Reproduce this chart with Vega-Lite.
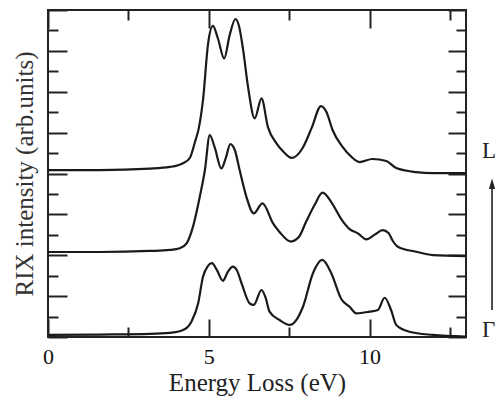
{
  "$schema": "https://vega.github.io/schema/vega-lite/v6.json",
  "width": 418,
  "height": 327,
  "autosize": "none",
  "padding": {"left": 48, "top": 10, "right": 31, "bottom": 66},
  "background": "white",
  "config": {
    "view": {"stroke": "#222", "strokeWidth": 2},
    "font": "Liberation Serif, Times New Roman, Times, serif",
    "axis": {"domain": false, "grid": false, "tickColor": "#222", "tickWidth": 2}
  },
  "datasets": {
    "curves": [
      {"s": "L", "x": 0, "y": 8.17}, {"s": "L", "x": 1.61, "y": 8.17}, {"s": "L", "x": 3.17, "y": 8.24}, {"s": "L", "x": 3.79, "y": 8.32}, {"s": "L", "x": 4.2, "y": 8.5}, {"s": "L", "x": 4.41, "y": 8.76}, {"s": "L", "x": 4.57, "y": 9.54}, {"s": "L", "x": 4.69, "y": 10.22}, {"s": "L", "x": 4.82, "y": 11.59}, {"s": "L", "x": 4.98, "y": 14.37}, {"s": "L", "x": 5.13, "y": 15.22}, {"s": "L", "x": 5.28, "y": 14.63}, {"s": "L", "x": 5.48, "y": 13.63}, {"s": "L", "x": 5.65, "y": 14.77}, {"s": "L", "x": 5.83, "y": 15.56}, {"s": "L", "x": 5.94, "y": 15.22}, {"s": "L", "x": 6.07, "y": 14.04}, {"s": "L", "x": 6.22, "y": 12.25}, {"s": "L", "x": 6.43, "y": 10.7}, {"s": "L", "x": 6.64, "y": 11.68}, {"s": "L", "x": 6.84, "y": 10.27}, {"s": "L", "x": 7.1, "y": 9.49}, {"s": "L", "x": 7.33, "y": 9.05}, {"s": "L", "x": 7.57, "y": 8.76}, {"s": "L", "x": 7.92, "y": 9.25}, {"s": "L", "x": 8.2, "y": 10.23}, {"s": "L", "x": 8.49, "y": 11.3}, {"s": "L", "x": 8.66, "y": 11.01}, {"s": "L", "x": 8.85, "y": 10.13}, {"s": "L", "x": 9.16, "y": 9.3}, {"s": "L", "x": 9.44, "y": 8.81}, {"s": "L", "x": 9.69, "y": 8.56}, {"s": "L", "x": 10.09, "y": 8.71}, {"s": "L", "x": 10.52, "y": 8.61}, {"s": "L", "x": 10.83, "y": 8.27}, {"s": "L", "x": 11.45, "y": 8.07}, {"s": "L", "x": 11.96, "y": 8.02}, {"s": "L", "x": 12.98, "y": 8.02},
      {"s": "M", "x": 0, "y": 4.16}, {"s": "M", "x": 1.61, "y": 4.16}, {"s": "M", "x": 3.17, "y": 4.21}, {"s": "M", "x": 3.79, "y": 4.26}, {"s": "M", "x": 4.1, "y": 4.34}, {"s": "M", "x": 4.31, "y": 4.58}, {"s": "M", "x": 4.51, "y": 5.4}, {"s": "M", "x": 4.72, "y": 6.86}, {"s": "M", "x": 4.88, "y": 8.17}, {"s": "M", "x": 5.03, "y": 9.88}, {"s": "M", "x": 5.19, "y": 9.25}, {"s": "M", "x": 5.39, "y": 8.25}, {"s": "M", "x": 5.53, "y": 8.76}, {"s": "M", "x": 5.67, "y": 9.44}, {"s": "M", "x": 5.81, "y": 9.15}, {"s": "M", "x": 5.96, "y": 8.17}, {"s": "M", "x": 6.17, "y": 6.86}, {"s": "M", "x": 6.4, "y": 6.05}, {"s": "M", "x": 6.67, "y": 6.54}, {"s": "M", "x": 7.0, "y": 5.56}, {"s": "M", "x": 7.2, "y": 5.14}, {"s": "M", "x": 7.55, "y": 4.67}, {"s": "M", "x": 7.8, "y": 4.89}, {"s": "M", "x": 8.03, "y": 5.65}, {"s": "M", "x": 8.29, "y": 6.46}, {"s": "M", "x": 8.54, "y": 7.06}, {"s": "M", "x": 8.81, "y": 6.6}, {"s": "M", "x": 9.12, "y": 5.77}, {"s": "M", "x": 9.38, "y": 5.28}, {"s": "M", "x": 9.64, "y": 5.07}, {"s": "M", "x": 9.9, "y": 4.78}, {"s": "M", "x": 10.16, "y": 5.01}, {"s": "M", "x": 10.41, "y": 5.23}, {"s": "M", "x": 10.59, "y": 5.09}, {"s": "M", "x": 10.72, "y": 4.71}, {"s": "M", "x": 10.88, "y": 4.42}, {"s": "M", "x": 11.45, "y": 4.17}, {"s": "M", "x": 11.97, "y": 4.01}, {"s": "M", "x": 12.98, "y": 3.96},
      {"s": "G", "x": 0, "y": 0.1}, {"s": "G", "x": 1.61, "y": 0.12}, {"s": "G", "x": 3.17, "y": 0.15}, {"s": "G", "x": 3.79, "y": 0.2}, {"s": "G", "x": 4.2, "y": 0.34}, {"s": "G", "x": 4.46, "y": 0.75}, {"s": "G", "x": 4.67, "y": 1.65}, {"s": "G", "x": 4.82, "y": 2.95}, {"s": "G", "x": 4.97, "y": 3.47}, {"s": "G", "x": 5.1, "y": 3.61}, {"s": "G", "x": 5.25, "y": 3.28}, {"s": "G", "x": 5.44, "y": 2.75}, {"s": "G", "x": 5.59, "y": 3.18}, {"s": "G", "x": 5.75, "y": 3.44}, {"s": "G", "x": 5.87, "y": 3.28}, {"s": "G", "x": 6.02, "y": 2.63}, {"s": "G", "x": 6.27, "y": 1.65}, {"s": "G", "x": 6.4, "y": 1.57}, {"s": "G", "x": 6.64, "y": 2.3}, {"s": "G", "x": 6.77, "y": 1.91}, {"s": "G", "x": 6.89, "y": 1.24}, {"s": "G", "x": 7.2, "y": 0.83}, {"s": "G", "x": 7.52, "y": 0.59}, {"s": "G", "x": 7.93, "y": 1.48}, {"s": "G", "x": 8.24, "y": 3.12}, {"s": "G", "x": 8.53, "y": 3.77}, {"s": "G", "x": 8.81, "y": 3.12}, {"s": "G", "x": 9.12, "y": 1.86}, {"s": "G", "x": 9.38, "y": 1.48}, {"s": "G", "x": 9.59, "y": 1.16}, {"s": "G", "x": 10.0, "y": 1.24}, {"s": "G", "x": 10.26, "y": 1.32}, {"s": "G", "x": 10.47, "y": 1.92}, {"s": "G", "x": 10.67, "y": 1.32}, {"s": "G", "x": 10.83, "y": 0.59}, {"s": "G", "x": 11.24, "y": 0.26}, {"s": "G", "x": 11.97, "y": 0.1}, {"s": "G", "x": 12.98, "y": 0.02}
    ],
    "labels": [
      {"t": "L", "x": 13.5, "y": 8.74},
      {"t": "Γ", "x": 13.5, "y": 0.0}
    ],
    "arrow": [
      {"x": 13.81, "y": 1.32, "y2": 7.5}
    ]
  },
  "layer": [
    {
      "data": {"name": "curves"},
      "mark": {"type": "line", "interpolate": "monotone", "color": "#1a1a1a", "strokeWidth": 2.2},
      "encoding": {
        "x": {
          "field": "x", "type": "quantitative",
          "scale": {"domain": [0, 13], "nice": false, "zero": false},
          "axis": {
            "orient": "bottom",
            "title": "Energy Loss (eV)",
            "titleFont": "Liberation Serif, Times New Roman, Times, serif", "titleFontSize": 25, "titleFontWeight": "normal", "titleColor": "#222", "titlePadding": 3,
            "values": [0, 2.5, 5, 7.5, 10, 12.5],
            "labelExpr": "datum.value % 5 === 0 ? datum.label : ''",
            "labelFont": "Liberation Serif, Times New Roman, Times, serif", "labelFontSize": 22, "labelColor": "#111", "labelFlush": false,
            "labelPadding": 27,
            "tickSize": {"condition": {"test": "datum.value % 5 === 0", "value": -18}, "value": -10}
          }
        },
        "y": {
          "field": "y", "type": "quantitative",
          "scale": {"domain": [0, 16], "nice": false, "zero": false},
          "axis": {
            "orient": "left",
            "title": "RIX intensity (arb.units)",
            "titleFont": "Liberation Serif, Times New Roman, Times, serif", "titleFontSize": 25, "titleFontWeight": "normal", "titleColor": "#333", "titlePadding": 10,
            "values": [0, 1, 2, 3, 4, 5, 6, 7, 8, 9, 10, 11, 12, 13, 14, 15, 16],
            "labels": false,
            "tickSize": {"condition": {"test": "datum.value % 2 === 0", "value": -19}, "value": -10}
          }
        },
        "detail": {"field": "s"}
      }
    },
    {
      "data": {"name": "curves"},
      "mark": {"type": "line", "opacity": 0},
      "encoding": {
        "x": {
          "field": "x", "type": "quantitative",
          "scale": {"domain": [0, 13], "nice": false, "zero": false},
          "axis": {
            "orient": "top", "title": null, "labels": false,
            "values": [0, 2.5, 5, 7.5, 10, 12.5],
            "tickSize": {"condition": {"test": "datum.value % 5 === 0", "value": -18}, "value": -10}
          }
        },
        "y": {
          "field": "y", "type": "quantitative",
          "scale": {"domain": [0, 16], "nice": false, "zero": false},
          "axis": {
            "orient": "right", "title": null, "labels": false,
            "values": [0, 1, 2, 3, 4, 5, 6, 7, 8, 9, 10, 11, 12, 13, 14, 15, 16],
            "tickSize": {"condition": {"test": "datum.value % 2 === 0", "value": -18}, "value": -10}
          }
        },
        "detail": {"field": "s"}
      }
    },
    {
      "data": {"name": "labels"},
      "mark": {"type": "text", "align": "left", "baseline": "alphabetic", "font": "Liberation Serif, Times New Roman, Times, serif", "fontSize": 23, "color": "#222", "clip": false},
      "encoding": {
        "x": {"field": "x", "type": "quantitative", "scale": {"domain": [0, 13], "nice": false, "zero": false}, "axis": null},
        "y": {"field": "y", "type": "quantitative", "scale": {"domain": [0, 16], "nice": false, "zero": false}, "axis": null},
        "text": {"field": "t"}
      }
    },
    {
      "data": {"name": "arrow"},
      "mark": {"type": "rule", "color": "#222", "strokeWidth": 1.6, "clip": false},
      "encoding": {
        "x": {"field": "x", "type": "quantitative", "scale": {"domain": [0, 13], "nice": false, "zero": false}, "axis": null},
        "y": {"field": "y", "type": "quantitative", "scale": {"domain": [0, 16], "nice": false, "zero": false}, "axis": null},
        "y2": {"field": "y2"}
      }
    },
    {
      "data": {"name": "arrow"},
      "mark": {"type": "point", "shape": "M0,-1L0.6,1L-0.6,1Z", "size": 110, "filled": true, "color": "#222", "opacity": 1, "clip": false},
      "encoding": {
        "x": {"field": "x", "type": "quantitative", "scale": {"domain": [0, 13], "nice": false, "zero": false}, "axis": null},
        "y": {"field": "y2", "type": "quantitative", "scale": {"domain": [0, 16], "nice": false, "zero": false}, "axis": null}
      }
    }
  ],
  "resolve": {"axis": {"x": "independent", "y": "independent"}}
}
